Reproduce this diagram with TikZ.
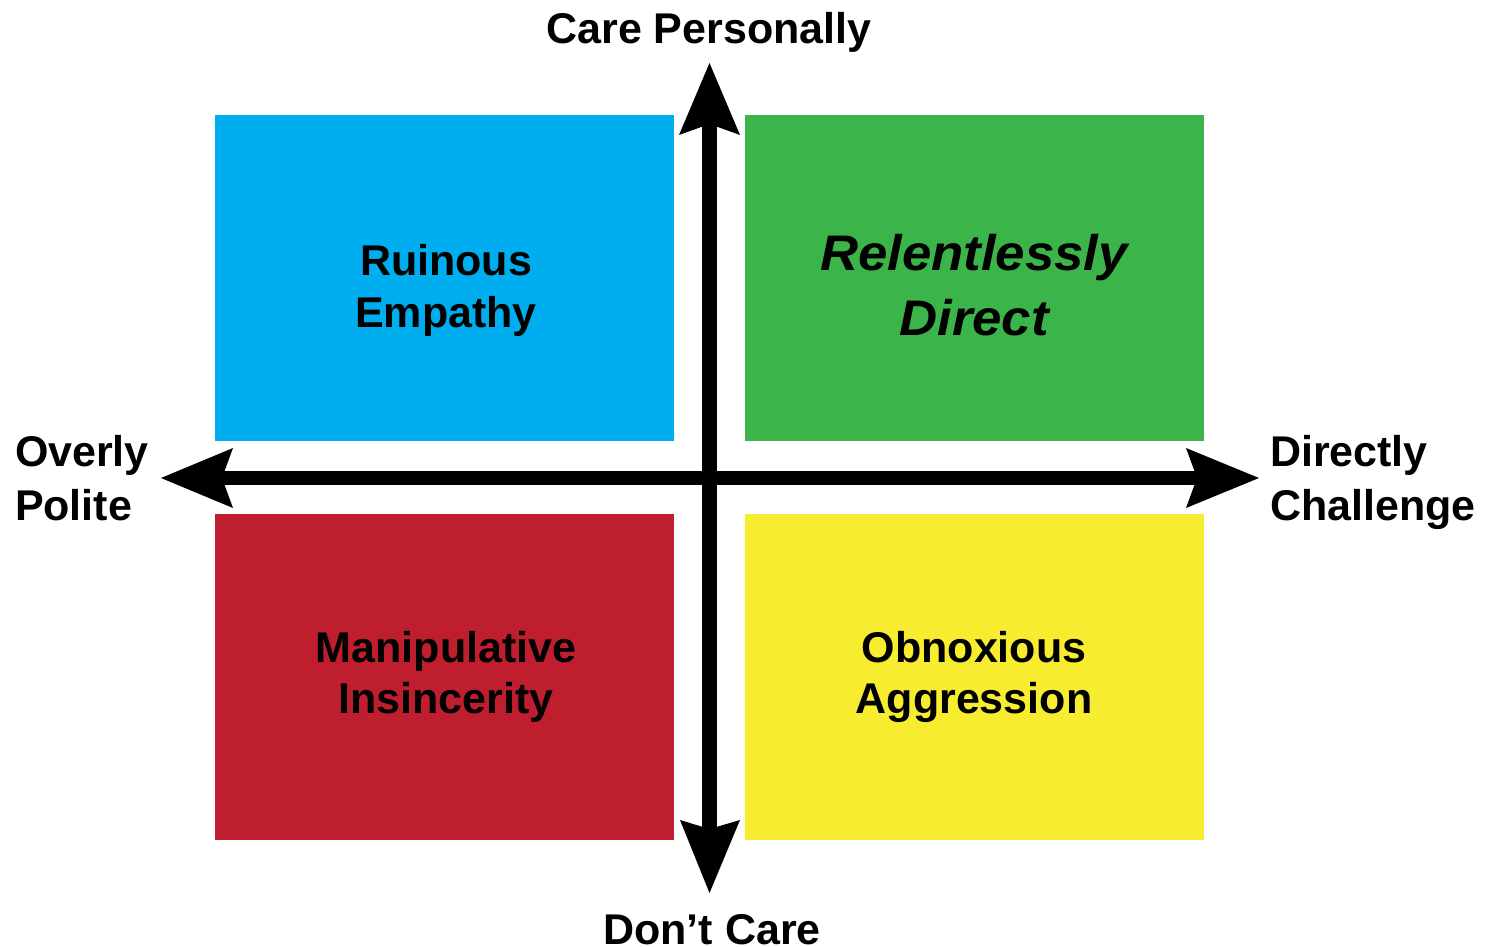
\documentclass[tikz,border=0pt]{standalone}
\usepackage{fontspec}
\usepackage{graphicx}
\setmainfont{Liberation Sans}
\definecolor{qblue}{HTML}{00AEEF}
\definecolor{qgreen}{HTML}{3BB54A}
\definecolor{qred}{HTML}{BE1E2D}
\definecolor{qyellow}{HTML}{F8EC31}
\tikzset{
  quad/.style={draw=none, inner sep=0pt, outer sep=0pt, minimum width=459pt, minimum height=326pt, anchor=north west},
  lbl/.style={inner sep=0pt, outer sep=0pt, anchor=base, font=\fontsize{43}{43}\selectfont\bfseries},
  lblL/.style={lbl, anchor=base west},
  lblI/.style={inner sep=0pt, outer sep=0pt, anchor=base, font=\fontsize{50}{50}\selectfont\bfseries\itshape},
  shaft/.style={line width=15pt, black},
  head/.style={fill=black, draw=none}
}
\begin{document}
\begin{tikzpicture}[x=1pt, y=-1pt]
\useasboundingbox (0,0) rectangle (1491,947);
% quadrants
\node[quad, fill=qblue]   (ruin) at (215,115) {};
\node[quad, fill=qgreen]  (rel)  at (745,115) {};
\node[quad, fill=qred]    (man)  at (215,514) {};
\node[quad, fill=qyellow] (obn)  at (745,514) {};
% axes
\coordinate (vtop) at (709.5,124);
\coordinate (vbot) at (709.5,829);
\coordinate (hleft) at (222,478);
\coordinate (hright) at (1197,478);
\draw[shaft] (vtop) -- (vbot);
\draw[line width=14pt, black] (hleft) -- (hright);
\fill[head] (709.5,63) -- (740,135) -- (vtop) -- (679,135) -- cycle;
\fill[head] (709.5,893) -- (740,820) -- (vbot) -- (680,820) -- cycle;
\fill[head] (161,478) -- (233,448) -- (hleft) -- (233,508) -- cycle;
\fill[head] (1259,478) -- (1186,448) -- (hright) -- (1186,508) -- cycle;
% axis labels
\node[lbl] (care) at (709,44) {Care Personally};
\node[lbl] (dont) at (712,944) {Don’t Care};
\node[lblL] (pol1) at (15,466) {Overly};
\node[lblL] (pol2) at (15,520) {Polite};
\node[lblL] (dir1) at (1270,466) {Directly};
\node[lblL] (dir2) at (1270,520) {Challenge};
% quadrant labels
\node[lbl] (ruin1) at (446,275) {Ruinous};
\node[lbl] (ruin2) at (446,327) {Empathy};
\node[lblI] (rel1) at (974,270) {\scalebox{1.055}[1]{Relentlessly}};
\node[lblI] (rel2) at (974,335) {\scalebox{1.055}[1]{Direct}};
\node[lbl] (man1) at (446,662) {Manipulative};
\node[lbl] (man2) at (446,713) {Insincerity};
\node[lbl] (obn1) at (974,662) {Obnoxious};
\node[lbl] (obn2) at (974,713) {Aggression};
\end{tikzpicture}
\end{document}
